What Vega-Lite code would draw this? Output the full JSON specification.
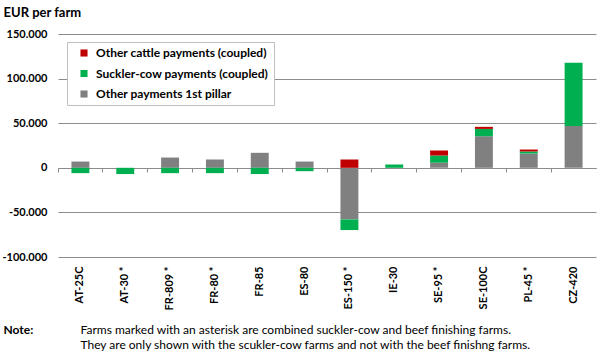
{
  "$schema": "https://vega.github.io/schema/vega-lite/v6.json",
  "width": 538,
  "height": 223,
  "autosize": {"type": "none"},
  "padding": {"left": 58, "top": 34, "right": 4, "bottom": 97},
  "background": "white",
  "config": {"view": {"stroke": null}, "font": "Lato"},
  "data": {
    "values": [
      {"farm": "AT-25C", "type": "Other payments 1st pillar", "ord": 0, "value": 7000},
      {"farm": "AT-25C", "type": "Suckler-cow payments (coupled)", "ord": 1, "value": -6000},
      {"farm": "AT-30 *", "type": "Suckler-cow payments (coupled)", "ord": 1, "value": -7000},
      {"farm": "FR-809 *", "type": "Other payments 1st pillar", "ord": 0, "value": 11500},
      {"farm": "FR-809 *", "type": "Suckler-cow payments (coupled)", "ord": 1, "value": -6000},
      {"farm": "FR-80 *", "type": "Other payments 1st pillar", "ord": 0, "value": 9300},
      {"farm": "FR-80 *", "type": "Suckler-cow payments (coupled)", "ord": 1, "value": -6000},
      {"farm": "FR-85", "type": "Other payments 1st pillar", "ord": 0, "value": 16800},
      {"farm": "FR-85", "type": "Suckler-cow payments (coupled)", "ord": 1, "value": -7000},
      {"farm": "ES-80", "type": "Other payments 1st pillar", "ord": 0, "value": 7000},
      {"farm": "ES-80", "type": "Suckler-cow payments (coupled)", "ord": 1, "value": -3800},
      {"farm": "ES-150 *", "type": "Other payments 1st pillar", "ord": 0, "value": -57800},
      {"farm": "ES-150 *", "type": "Suckler-cow payments (coupled)", "ord": 1, "value": -12000},
      {"farm": "ES-150 *", "type": "Other cattle payments (coupled)", "ord": 2, "value": 9300},
      {"farm": "IE-30", "type": "Suckler-cow payments (coupled)", "ord": 1, "value": 3700},
      {"farm": "SE-95 *", "type": "Other payments 1st pillar", "ord": 0, "value": 5600},
      {"farm": "SE-95 *", "type": "Suckler-cow payments (coupled)", "ord": 1, "value": 8200},
      {"farm": "SE-95 *", "type": "Other cattle payments (coupled)", "ord": 2, "value": 5600},
      {"farm": "SE-100C", "type": "Other payments 1st pillar", "ord": 0, "value": 35400},
      {"farm": "SE-100C", "type": "Suckler-cow payments (coupled)", "ord": 1, "value": 8200},
      {"farm": "SE-100C", "type": "Other cattle payments (coupled)", "ord": 2, "value": 2300},
      {"farm": "PL-45 *", "type": "Other payments 1st pillar", "ord": 0, "value": 16000},
      {"farm": "PL-45 *", "type": "Suckler-cow payments (coupled)", "ord": 1, "value": 2300},
      {"farm": "PL-45 *", "type": "Other cattle payments (coupled)", "ord": 2, "value": 2200},
      {"farm": "CZ-420", "type": "Other payments 1st pillar", "ord": 0, "value": 47000},
      {"farm": "CZ-420", "type": "Suckler-cow payments (coupled)", "ord": 1, "value": 70800}
    ]
  },
  "encoding": {
    "y": {
      "field": "value",
      "type": "quantitative",
      "aggregate": "sum",
      "stack": "zero",
      "scale": {"domain": [-100000, 150000], "nice": false},
      "axis": {
        "values": [-100000, -50000, 0, 50000, 100000, 150000],
        "labelExpr": "replace(replace(format(datum.value, ','), ',', '.'), '\u2212', '-')",
        "domain": false,
        "ticks": false,
        "grid": true,
        "gridColor": "#8c8c8c",
        "gridWidth": 1,
        "labelFont": "Lato",
        "labelFontWeight": "bold",
        "labelFontSize": 11,
        "labelColor": "#000",
        "labelPadding": 11,
        "title": "EUR per farm",
        "titleAngle": 0,
        "titleX": -55,
        "titleY": -18,
        "titleAlign": "left",
        "titleBaseline": "alphabetic",
        "titleFont": "Lato",
        "titleFontWeight": "bold",
        "titleFontSize": 13,
        "titleColor": "#000"
      }
    }
  },
  "layer": [
    {
      "mark": {"type": "bar"},
      "encoding": {
        "x": {
          "field": "farm",
          "type": "nominal",
          "sort": null,
          "scale": {"paddingInner": 0.6, "paddingOuter": 0.3},
          "axis": {
            "orient": "bottom",
            "domain": false,
            "ticks": false,
            "grid": false,
            "labelAngle": 270,
            "labelFont": "Lato",
            "labelFontWeight": "bold",
            "labelFontSize": 11,
            "labelColor": "#000",
            "labelPadding": 9,
            "labelOverlap": false,
            "labelBound": false,
            "title": ["Farms marked with an asterisk are combined suckler-cow and beef finishing farms.", "They are only shown with the scukler-cow farms and not with the beef finishng farms."],
            "titleX": 22,
            "titleY": 76,
            "titleAlign": "left",
            "titleAnchor": "start",
            "titleBaseline": "alphabetic",
            "titleFont": "Lato",
            "titleFontWeight": "normal",
            "titleFontSize": 12,
            "titleLineHeight": 15,
            "titleColor": "#000"
          }
        },
        "color": {
          "field": "type",
          "type": "nominal",
          "scale": {
            "domain": ["Other cattle payments (coupled)", "Suckler-cow payments (coupled)", "Other payments 1st pillar"],
            "range": ["#c00000", "#00b050", "#808080"]
          },
          "legend": {
            "orient": "none",
            "legendX": 9,
            "legendY": 8,
            "direction": "vertical",
            "title": null,
            "strokeColor": "#bfbfbf",
            "fillColor": "white",
            "padding": 5,
            "symbolOffset": 6,
            "symbolType": "square",
            "symbolSize": 50,
            "symbolStrokeWidth": 0,
            "labelFont": "Lato",
            "labelFontSize": 12,
            "labelFontWeight": "bold",
            "labelColor": "#000",
            "labelOffset": 6,
            "labelLimit": 300,
            "rowPadding": 8.5
          }
        },
        "order": {"field": "ord", "type": "quantitative"}
      }
    },
    {
      "mark": {"type": "bar", "opacity": 0},
      "encoding": {
        "x": {
          "field": "farm",
          "type": "nominal",
          "sort": null,
          "scale": {"paddingInner": 0, "paddingOuter": 0},
          "axis": {
            "orient": "bottom",
            "offset": -89,
            "labels": false,
            "grid": false,
            "domain": true,
            "domainColor": "#8c8c8c",
            "domainWidth": 1,
            "ticks": true,
            "tickColor": "#8c8c8c",
            "tickSize": 4,
            "bandPosition": 0,
            "title": "Note:",
            "titleX": -55,
            "titleY": 165,
            "titleAlign": "left",
            "titleAnchor": "start",
            "titleBaseline": "alphabetic",
            "titleFont": "Lato",
            "titleFontWeight": "bold",
            "titleFontSize": 12,
            "titleColor": "#000"
          }
        }
      }
    }
  ],
  "resolve": {"scale": {"x": "independent"}}
}
